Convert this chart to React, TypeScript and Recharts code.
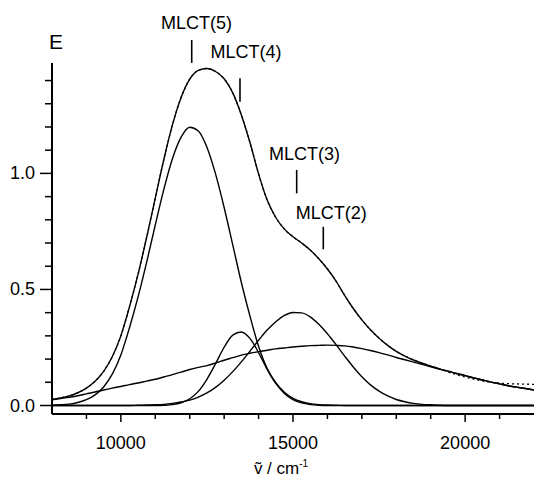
import React from 'react';
import { LineChart, Line, XAxis, YAxis, ReferenceLine, ReferenceDot } from 'recharts';

// wavenumber grid (cm^-1)
const wavenumbers = [
  8000, 8250, 8500, 8750, 9000, 9250, 9500, 9750, 10000, 10250, 10500, 10750,
  11000, 11250, 11500, 11750, 12000, 12250, 12500, 12750, 13000, 13250, 13500, 13750,
  14000, 14250, 14500, 14750, 15000, 15250, 15500, 15750, 16000, 16250, 16500, 16750,
  17000, 17250, 17500, 17750, 18000, 18250, 18500, 18750, 19000, 19250, 19500, 19750,
  20000, 20250, 20500, 20750, 21000, 21250, 21500, 21750, 22000,
];

// Gaussian band MLCT(5)
const bandMLCT5 = [
  0.001, 0.003, 0.006, 0.013, 0.025, 0.046, 0.080, 0.135, 0.218, 0.335, 0.468, 0.618,
  0.778, 0.932, 1.064, 1.156, 1.199, 1.183, 1.113, 0.998, 0.853, 0.692, 0.530, 0.385,
  0.255, 0.159, 0.098, 0.057, 0.031, 0.016, 0.008, 0.004, 0.002, 0.001, 0, 0,
  0, 0, 0, 0, 0, 0, 0, 0, 0, 0, 0, 0,
  0, 0, 0, 0, 0, 0, 0, 0, 0,
];

// Gaussian band MLCT(4)
const bandMLCT4 = [
  0, 0, 0, 0, 0, 0, 0, 0, 0, 0, 0, 0,
  0, 0.001, 0.004, 0.012, 0.029, 0.061, 0.113, 0.180, 0.251, 0.303, 0.317, 0.289,
  0.228, 0.156, 0.095, 0.052, 0.025, 0.011, 0.004, 0.001, 0, 0, 0, 0,
  0, 0, 0, 0, 0, 0, 0, 0, 0, 0, 0, 0,
  0, 0, 0, 0, 0, 0, 0, 0, 0,
];

// Gaussian band MLCT(3)
const bandMLCT3 = [
  0, 0, 0, 0, 0, 0, 0, 0, 0, 0, 0.001, 0.002,
  0.003, 0.005, 0.009, 0.015, 0.023, 0.036, 0.054, 0.078, 0.109, 0.146, 0.188, 0.234,
  0.281, 0.325, 0.361, 0.388, 0.401, 0.399, 0.382, 0.350, 0.309, 0.262, 0.213, 0.166,
  0.124, 0.089, 0.062, 0.041, 0.026, 0.016, 0.009, 0.005, 0.003, 0.001, 0, 0,
  0, 0, 0, 0, 0, 0, 0, 0, 0,
];

// Gaussian band MLCT(2) (broad)
const bandMLCT2 = [
  0.025, 0.030, 0.035, 0.042, 0.050, 0.058, 0.067, 0.075, 0.082, 0.090, 0.097, 0.105,
  0.113, 0.123, 0.133, 0.144, 0.155, 0.164, 0.172, 0.183, 0.195, 0.206, 0.217, 0.225,
  0.232, 0.238, 0.244, 0.248, 0.252, 0.255, 0.258, 0.259, 0.260, 0.259, 0.257, 0.252,
  0.245, 0.237, 0.228, 0.218, 0.207, 0.197, 0.187, 0.177, 0.167, 0.157, 0.148, 0.138,
  0.129, 0.119, 0.110, 0.101, 0.093, 0.085, 0.079, 0.073, 0.067,
];

// fitted envelope
const fitEnvelope = [
  0.026, 0.033, 0.041, 0.055, 0.075, 0.104, 0.147, 0.210, 0.300, 0.425, 0.566, 0.725,
  0.894, 1.061, 1.210, 1.327, 1.406, 1.444, 1.452, 1.439, 1.408, 1.347, 1.252, 1.133,
  0.998, 0.885, 0.810, 0.760, 0.727, 0.700, 0.670, 0.632, 0.588, 0.536, 0.474, 0.418,
  0.369, 0.326, 0.290, 0.259, 0.233, 0.213, 0.196, 0.182, 0.170, 0.158, 0.148, 0.138,
  0.129, 0.119, 0.110, 0.101, 0.093, 0.085, 0.079, 0.073, 0.067,
];

// measured spectrum (dotted)
const measured = [
  0.026, 0.033, 0.041, 0.055, 0.075, 0.104, 0.147, 0.210, 0.300, 0.425, 0.566, 0.725,
  0.894, 1.061, 1.210, 1.327, 1.406, 1.444, 1.452, 1.439, 1.408, 1.347, 1.252, 1.133,
  0.998, 0.885, 0.810, 0.760, 0.727, 0.700, 0.670, 0.632, 0.588, 0.536, 0.474, 0.418,
  0.369, 0.326, 0.290, 0.259, 0.233, 0.213, 0.196, 0.182, 0.170, 0.158, 0.144, 0.133,
  0.123, 0.114, 0.106, 0.100, 0.096, 0.094, 0.093, 0.092, 0.091,
];

const xTicks = [9000, 10000, 11000, 12000, 13000, 14000, 15000, 16000, 17000, 18000, 19000, 20000, 21000];
const xMajorTicks = [10000, 15000, 20000];
const yTicks = [0, 0.1, 0.2, 0.3, 0.4, 0.5, 0.6, 0.7, 0.8, 0.9, 1.0, 1.1, 1.2, 1.3, 1.4];
const yMajorTicks = [0, 0.5, 1.0];
const yMajorLabels = ['0.0', '0.5', '1.0'];

const markerNames = ['MLCT(5)', 'MLCT(4)', 'MLCT(3)', 'MLCT(2)'];
const markerX = [12058, 13460, 15107, 15880];
const markerYLow = [1.476, 1.309, 0.914, 0.673];
const markerYHigh = [1.575, 1.41, 1.015, 0.77];
const markerTextX = [12197, 13635, 15334, 16112];
const markerTextY = [1.621, 1.497, 1.058, 0.804];

const data = wavenumbers.map((x, i) => ({
  x,
  g5: bandMLCT5[i],
  g4: bandMLCT4[i],
  g3: bandMLCT3[i],
  g2: bandMLCT2[i],
  fit: fitEnvelope[i],
  exp: measured[i],
}));

const FONT = '"Liberation Sans", Arial, Helvetica, sans-serif';

const YTick = (props: any) => {
  const { x, y, payload } = props;
  const idx = yMajorTicks.findIndex((v) => Math.abs(v - payload.value) < 1e-6);
  const major = idx >= 0;
  return (
    <g>
      <line x1={x - (major ? 12 : 7)} x2={x} y1={y} y2={y} stroke="#000" strokeWidth={1.5} />
      {major && (
        <text x={x - 17} y={y + 6} textAnchor="end" fontFamily={FONT} fontSize={18} fill="#000">
          {yMajorLabels[idx]}
        </text>
      )}
    </g>
  );
};

const XTick = (props: any) => {
  const { x, y, payload } = props;
  const major = xMajorTicks.includes(payload.value);
  return (
    <g>
      <line x1={x} x2={x} y1={y} y2={y + (major ? 8 : 5)} stroke="#000" strokeWidth={1.5} />
      {major && (
        <text x={x} y={y + 34.5} textAnchor="middle" fontFamily={FONT} fontSize={18} fill="#000">
          {String(payload.value)}
        </text>
      )}
    </g>
  );
};

const XLabel = (props: any) => {
  const vb = props.viewBox;
  return (
    <text x={vb.x + vb.width / 2 - 12} y={vb.y + 60} textAnchor="middle" fontFamily={FONT} fontSize={17} fill="#000">
      {'\u1E7D / cm'}
      <tspan dy={-7} fontSize={10}>{'-1'}</tspan>
    </text>
  );
};

const YLabel = (props: any) => {
  const vb = props.viewBox;
  return (
    <text x={vb.x + vb.width + 4} y={vb.y - 14} textAnchor="middle" fontFamily={FONT} fontSize={21} fill="#000">
      E
    </text>
  );
};

export default function App() {
  return (
    <div style={{ position: 'absolute', left: 0, top: 0, background: '#fff' }}>
      <LineChart width={534} height={494} data={data} margin={{ top: 63, right: 0, bottom: 0, left: 0 }}>
        <XAxis
          dataKey="x"
          type="number"
          domain={[8000, 22000]}
          allowDataOverflow
          ticks={xTicks}
          interval={0}
          height={80}
          tickSize={0}
          tickMargin={0}
          tickLine={false}
          axisLine={{ stroke: '#000', strokeWidth: 2 }}
          tick={<XTick />}
          label={XLabel}
        />
        <YAxis
          type="number"
          domain={[-0.0366, 1.4756]}
          allowDataOverflow
          ticks={yTicks}
          interval={0}
          width={52}
          tickSize={0}
          tickMargin={0}
          tickLine={false}
          axisLine={{ stroke: '#000', strokeWidth: 2 }}
          tick={<YTick />}
          label={YLabel}
        />
        <Line type="monotone" dataKey="g2" stroke="#000" strokeWidth={1.4} dot={false} isAnimationActive={false} />
        <Line type="monotone" dataKey="g3" stroke="#000" strokeWidth={1.4} dot={false} isAnimationActive={false} />
        <Line type="monotone" dataKey="g4" stroke="#000" strokeWidth={1.4} dot={false} isAnimationActive={false} />
        <Line type="monotone" dataKey="g5" stroke="#000" strokeWidth={1.4} dot={false} isAnimationActive={false} />
        <Line type="monotone" dataKey="exp" stroke="#000" strokeWidth={1.3} strokeDasharray="2 3" dot={false} isAnimationActive={false} />
        <Line type="monotone" dataKey="fit" stroke="#000" strokeWidth={1.4} dot={false} isAnimationActive={false} />
        {markerNames.map((name, i) => (
          <ReferenceLine
            key={'l' + name}
            segment={[{ x: markerX[i], y: markerYLow[i] }, { x: markerX[i], y: markerYHigh[i] }]}
            stroke="#000"
            strokeWidth={1.6}
            ifOverflow="visible"
          />
        ))}
        {markerNames.map((name, i) => (
          <ReferenceDot
            key={'t' + name}
            x={markerTextX[i]}
            y={markerTextY[i]}
            r={0}
            ifOverflow="visible"
            shape={(p: any) => (
              <text x={p.cx} y={p.cy} textAnchor="middle" fontFamily={FONT} fontSize={18} fill="#000">
                {name}
              </text>
            )}
          />
        ))}
      </LineChart>
    </div>
  );
}
